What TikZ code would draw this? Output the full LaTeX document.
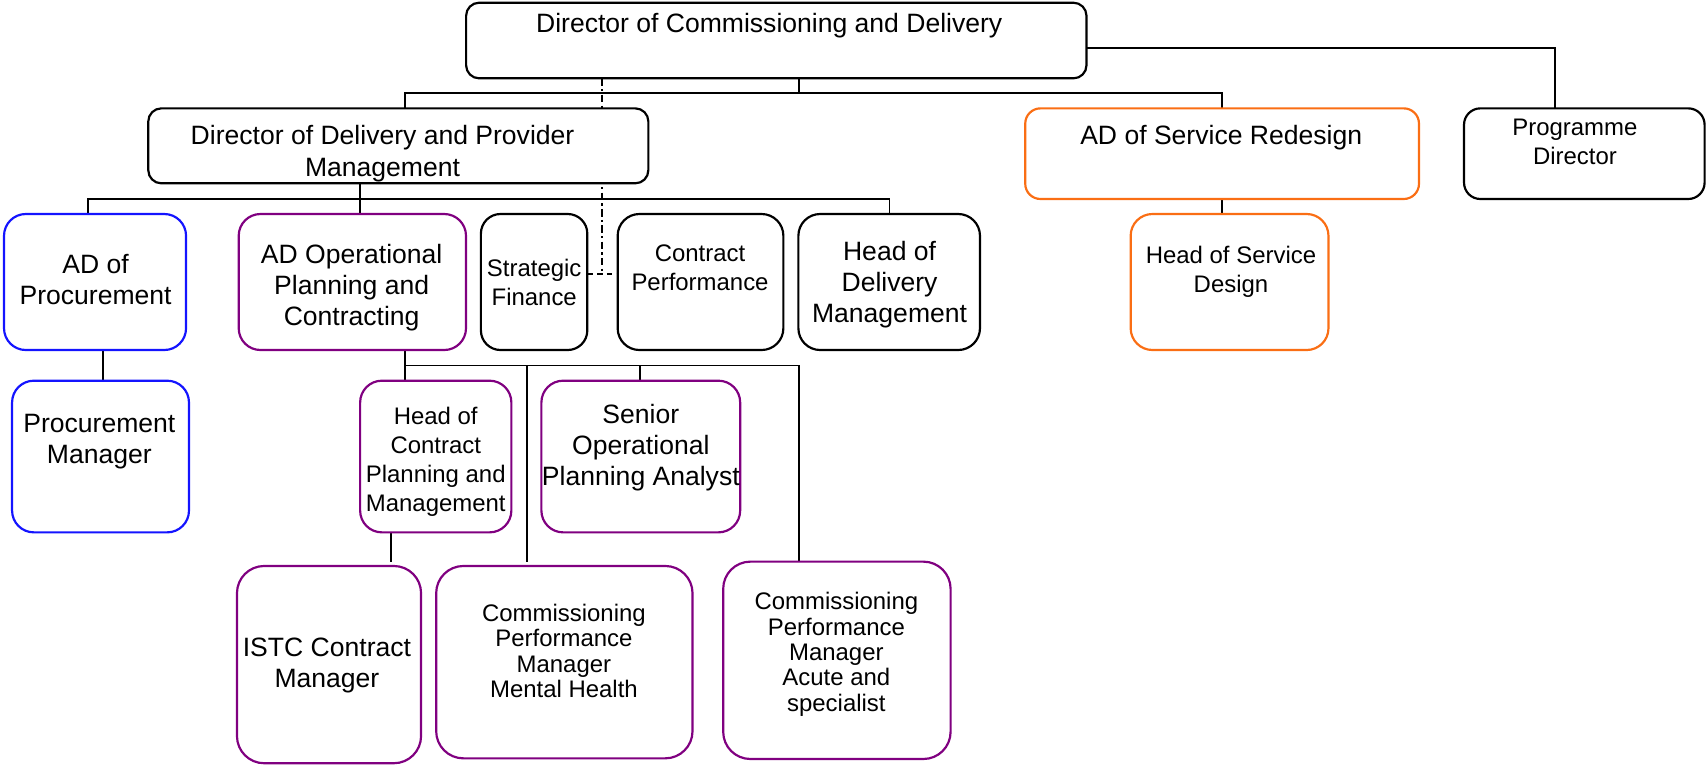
\documentclass[tikz,border=0pt]{standalone}
\usepackage{fontspec}
\setmainfont{Liberation Sans}
\usetikzlibrary{backgrounds}
\definecolor{cblue}{RGB}{20,20,255}
\definecolor{cpurple}{RGB}{128,0,128}
\definecolor{corange}{RGB}{250,110,20}
\newcommand\FBig{\fontsize{24.4}{28.6}\selectfont}
\newcommand\FSmall{\fontsize{22}{26.4}\selectfont}
\newcommand\FTight{\fontsize{22}{23.4}\selectfont}
\newcommand\orgbox[7]{%
  \node[orgshape, draw=#7, rounded corners=#6pt,
        minimum width={(#4-#2)*1pt}, minimum height={(#5-#3)*1pt}]
        (#1) at ({(#2+#4)/2},{(#3+#5)/2}) {};}
\tikzset{
  orgshape/.style={rectangle, fill=white, line width=2pt, inner sep=0pt, outer sep=0pt},
  txt/.style={inner sep=0pt, outer sep=0pt, align=center, anchor=north},
  conn/.style={line width=1.7pt, draw=black},
  dashdotline/.style={line width=1.8pt, draw=black, dash pattern=on 7pt off 3pt on 2pt off 3pt},
  dashline/.style={line width=1.8pt, draw=black, dash pattern=on 5pt off 4pt},
}
\begin{document}
\begin{tikzpicture}[x=1pt, y=-1pt]
\useasboundingbox (0,0) rectangle (1568,703);
% boxes
\orgbox{dcd}{428.4}{2.5}{998.6}{72}{12}{black}
\orgbox{ddpm}{136.3}{99.6}{595.9}{168.5}{12}{black}
\orgbox{adsr}{942.3}{99.6}{1304.2}{182.9}{14}{corange}
\orgbox{pd}{1345.6}{99.6}{1566.7}{182.9}{15}{black}
\orgbox{adp}{3.7}{196.7}{171}{321.7}{20}{cblue}
\orgbox{ado}{219.4}{196.7}{428.3}{321.7}{20}{cpurple}
\orgbox{sf}{442}{196.7}{539.8}{321.7}{18}{black}
\orgbox{cp}{567.7}{196.7}{720}{321.7}{20}{black}
\orgbox{hdm}{733.8}{196.7}{900.7}{321.7}{20}{black}
\orgbox{hsd}{1039.2}{196.7}{1221}{321.7}{20}{corange}
\orgbox{pm}{11.1}{349.9}{173.7}{489.3}{20}{cblue}
\orgbox{hoc}{331}{349.9}{470}{489.3}{20}{cpurple}
\orgbox{sopa}{497.6}{349.9}{680.3}{489.3}{20}{cpurple}
\orgbox{istc}{217.8}{520.2}{387}{701.5}{25}{cpurple}
\orgbox{mh}{400.9}{520.2}{636.5}{697}{25}{cpurple}
\orgbox{acu}{664.7}{516.2}{873.7}{697.6}{25}{cpurple}
% texts
\node[txt, font=\FBig] (dcd-t) at (707,12.4) {Director of Commissioning and Delivery};
\node[txt, font=\FBig] (ddpm-t) at (351.6,115.5) {Director of Delivery and Provider\\Management};
\node[txt, font=\FBig] (adsr-t) at (1122.4,115.3) {AD of Service Redesign};
\node[txt, font=\FSmall] (pd-t) at (1447.5,109.8) {Programme\\Director};
\node[txt, font=\FBig] (adp-t) at (87.9,233.6) {AD of\\Procurement};
\node[txt, font=\FBig] (ado-t) at (323.2,224.1) {AD Operational\\Planning and\\Contracting};
\node[txt, font=\FSmall] (sf-t) at (491,238.3) {Strategic\\Finance};
\node[txt, font=\FSmall] (cp-t) at (643.4,225.2) {Contract\\Performance};
\node[txt, font=\FBig] (hdm-t) at (817.6,221.5) {Head of\\Delivery\\Management};
\node[txt, font=\FSmall] (hsd-t) at (1131.4,226.5) {Head of Service\\Design};
\node[txt, font=\FBig] (pm-t) at (91.3,380.3) {Procurement\\Manager};
\node[txt, font=\FSmall] (hoc-t) at (400.5,374.6) {Head of\\Contract\\Planning and\\Management};
\node[txt, font=\FBig] (sopa-t) at (589,371.2) {Senior\\Operational\\Planning Analyst};
\node[txt, font=\FBig] (istc-t) at (300.5,585.9) {ISTC Contract\\Manager};
\node[txt, font=\FTight] (mh-t) at (518.3,555.3) {Commissioning\\Performance\\Manager\\Mental Health};
\node[txt, font=\FTight] (acu-t) at (768.7,544.3) {Commissioning\\Performance\\Manager\\Acute and\\specialist};
% connectors
\coordinate (busA) at (372.5,85.8);
\coordinate (busM) at (734.2,85.8);
\coordinate (busB) at (1123.2,85.8);
\coordinate (pdx) at (1428.9,43.8);
\coordinate (dd) at (553.6,252.1);
\coordinate (b2L) at (80.5,183);
\coordinate (b2M) at (331,183);
\coordinate (b2R) at (817.6,183);
\coordinate (pmx) at (94.5,335);
\coordinate (b3L) at (372.5,336);
\coordinate (m1) at (484.3,336);
\coordinate (m2) at (588,336);
\coordinate (b3R) at (734,336);
\coordinate (istx) at (359,500);
\begin{scope}[on background layer]
\draw[conn] (dcd.south -| busM) -- (busM);
\draw[conn] (ddpm.north -| busA) -- (busA) -- (busB) -- (adsr.north -| busB);
\draw[conn] (dcd.east |- pdx) -- (pdx) -- (pd.north -| pdx);
\draw[dashdotline] (dcd.south -| dd) -- (dd);
\draw[dashline] (sf.east |- dd) -- (cp.west |- dd);
\draw[conn] (adp.north -| b2L) -- (b2L) -- (b2R) -- (hdm.north -| b2R);
\draw[conn] (ddpm.south -| b2M) -- (ado.north -| b2M);
\draw[conn] (adp.south -| pmx) -- (pm.north -| pmx);
\draw[conn] (adsr.south -| busB) -- (hsd.north -| busB);
\draw[conn] (ado.south -| b3L) -- (hoc.north -| b3L);
\draw[conn] (b3L) -- (b3R) -- (acu.north -| b3R);
\draw[conn, shorten >=3.4pt] (m1) -- (mh.north -| m1);
\draw[conn] (m2) -- (sopa.north -| m2);
\draw[conn, shorten >=3.4pt] (hoc.south -| istx) -- (istc.north -| istx);
\end{scope}
\end{tikzpicture}
\end{document}
